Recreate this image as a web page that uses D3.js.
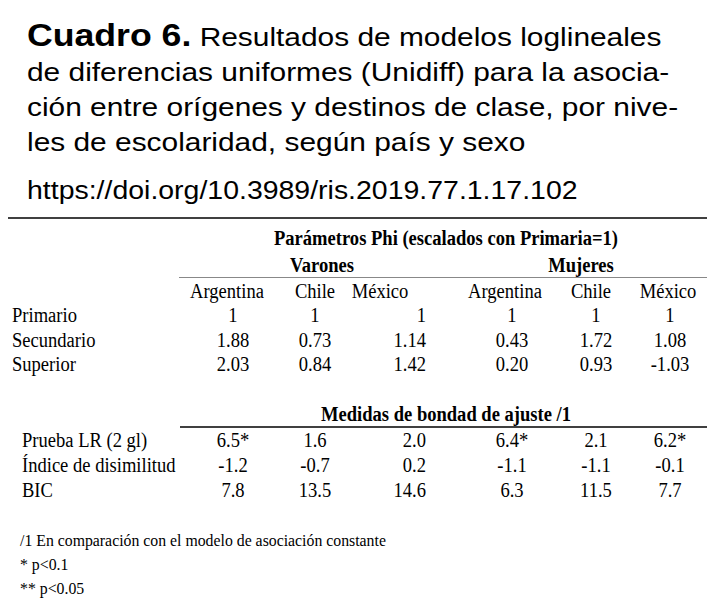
<!DOCTYPE html>
<html>
<head>
<meta charset="utf-8">
<script src="https://cdn.jsdelivr.net/npm/d3@7"></script>
<style>
  body { margin: 0; background: #fff; }
  .title { font-family: "Liberation Sans", Arial, sans-serif; font-size: 26px; fill: #000; }
  .tbl { font-family: "Liberation Serif", "Times New Roman", serif; font-size: 20.5px; fill: #000; }
  .bold { font-weight: bold; }
  .note { font-family: "Liberation Serif", "Times New Roman", serif; font-size: 17px; fill: #000; }
</style>
</head>
<body>
<div id="chart"></div>
<script>
// Table contents
var titleLines = [
  'Resultados de modelos loglineales',
  'de diferencias uniformes (Unidiff) para la asocia-',
  'ción entre orígenes y destinos de clase, por nive-',
  'les de escolaridad, según país y sexo'
];
var doiText = 'https://doi.org/10.3989/ris.2019.77.1.17.102';

var phiHeader = 'Parámetros Phi (escalados con Primaria=1)';
var fitHeader = 'Medidas de bondad de ajuste /1';
var sexes = ['Varones', 'Mujeres'];
var countries = ['Argentina', 'Chile', 'México', 'Argentina', 'Chile', 'México'];

var levels = ['Primario', 'Secundario', 'Superior'];
var phiValues = [
  ['1', '1', '1', '1', '1', '1'],
  ['1.88', '0.73', '1.14', '0.43', '1.72', '1.08'],
  ['2.03', '0.84', '1.42', '0.20', '0.93', '-1.03']
];

var fitMeasures = ['Prueba LR (2 gl)', 'Índice de disimilitud', 'BIC'];
var fitValues = [
  ['6.5*', '1.6', '2.0', '6.4*', '2.1', '6.2*'],
  ['-1.2', '-0.7', '0.2', '-1.1', '-1.1', '-0.1'],
  ['7.8', '13.5', '14.6', '6.3', '11.5', '7.7']
];

var footnotes = [
  '/1 En comparación con el modelo de asociación constante',
  '* p<0.1',
  '** p<0.05'
];

var w = 723;
var h = 607;

// Horizontal squeeze/stretch of the scanned fonts
var titleSX = 1.15;
var doiSX = 1.095;
var tableSX = 0.905;
var noteSX = 0.93;

var svg = d3.select('#chart')
  .append('svg')
  .attr('width', w)
  .attr('height', h);

// Place a text element at (x, y) with horizontal scaling
var place = function (sel, x, y, sx) {
  return sel.attr('transform', `translate(${x}, ${y}) scale(${sx}, 1)`);
};

// Title block
var titleY = d3.scalePoint()
  .domain(d3.range(titleLines.length))
  .range([46, 151]);

var t0 = svg.append('text')
  .attr('class', 'title');
place(t0, 27, titleY(0), titleSX);
t0.append('tspan').attr('font-weight', 'bold').attr('font-size', '31px').text('Cuadro 6.');
t0.append('tspan').text(' ' + titleLines[0]);

svg.selectAll('text.tline')
  .data(titleLines.slice(1))
  .enter()
  .append('text')
  .attr('class', 'title tline')
  .each(function (d, i) { place(d3.select(this), 27, titleY(i + 1), titleSX); })
  .text(d => d);

place(svg.append('text').attr('class', 'title'), 27, 199, doiSX)
  .text(doiText);

// Rules
svg.append('line')
  .attr('x1', 8).attr('x2', 707)
  .attr('y1', 218).attr('y2', 218)
  .attr('stroke', '#000').attr('stroke-width', 1.6);

svg.append('line')
  .attr('x1', 179).attr('x2', 707)
  .attr('y1', 277.5).attr('y2', 277.5)
  .attr('stroke', '#888').attr('stroke-width', 1.2);

svg.append('line')
  .attr('x1', 180).attr('x2', 707)
  .attr('y1', 427).attr('y2', 427)
  .attr('stroke', '#000').attr('stroke-width', 1.4);

// Column scales
var cols = d3.range(countries.length);
var headerX = d3.scaleOrdinal().domain(cols).range([227, 315, 380, 505, 591, 668]);
var valueX = d3.scaleOrdinal().domain(cols).range([233, 315, 426, 512, 596, 670]);
var valueAnchor = d3.scaleOrdinal().domain(cols).range(['middle', 'middle', 'end', 'middle', 'middle', 'middle']);
var sexX = d3.scaleOrdinal().domain(sexes).range([322, 581]);

// Headers
place(svg.append('text').attr('class', 'tbl bold').attr('text-anchor', 'middle'), 446, 245, tableSX)
  .text(phiHeader);

svg.selectAll('text.sex')
  .data(sexes)
  .enter()
  .append('text')
  .attr('class', 'tbl bold sex')
  .attr('text-anchor', 'middle')
  .each(function (d) { place(d3.select(this), sexX(d), 272, tableSX); })
  .text(d => d);

svg.selectAll('text.country')
  .data(countries)
  .enter()
  .append('text')
  .attr('class', 'tbl country')
  .attr('text-anchor', 'middle')
  .each(function (d, i) { place(d3.select(this), headerX(i), 298, tableSX); })
  .text(d => d);

// Row blocks
var drawBlock = function (labels, values, yScale, labelX) {
  var g = svg.append('g');
  labels.forEach((lab, r) => {
    place(g.append('text').attr('class', 'tbl'), labelX, yScale(lab), tableSX)
      .text(lab);
    g.selectAll('text.v' + r)
      .data(values[r])
      .enter()
      .append('text')
      .attr('class', 'tbl v' + r)
      .attr('text-anchor', (d, i) => valueAnchor(i))
      .each(function (d, i) { place(d3.select(this), valueX(i), yScale(lab), tableSX); })
      .text(d => d);
  });
};

var phiY = d3.scalePoint().domain(levels).range([322, 371]);
drawBlock(levels, phiValues, phiY, 12);

place(svg.append('text').attr('class', 'tbl bold').attr('text-anchor', 'middle'), 446, 421, tableSX)
  .text(fitHeader);

var fitY = d3.scalePoint().domain(fitMeasures).range([447, 497]);
drawBlock(fitMeasures, fitValues, fitY, 22);

// Footnotes
var noteY = d3.scalePoint().domain(d3.range(footnotes.length)).range([546, 594]);
svg.selectAll('text.note')
  .data(footnotes)
  .enter()
  .append('text')
  .attr('class', 'note')
  .each(function (d, i) { place(d3.select(this), 20, noteY(i), noteSX); })
  .text(d => d);
</script>
</body>
</html>
